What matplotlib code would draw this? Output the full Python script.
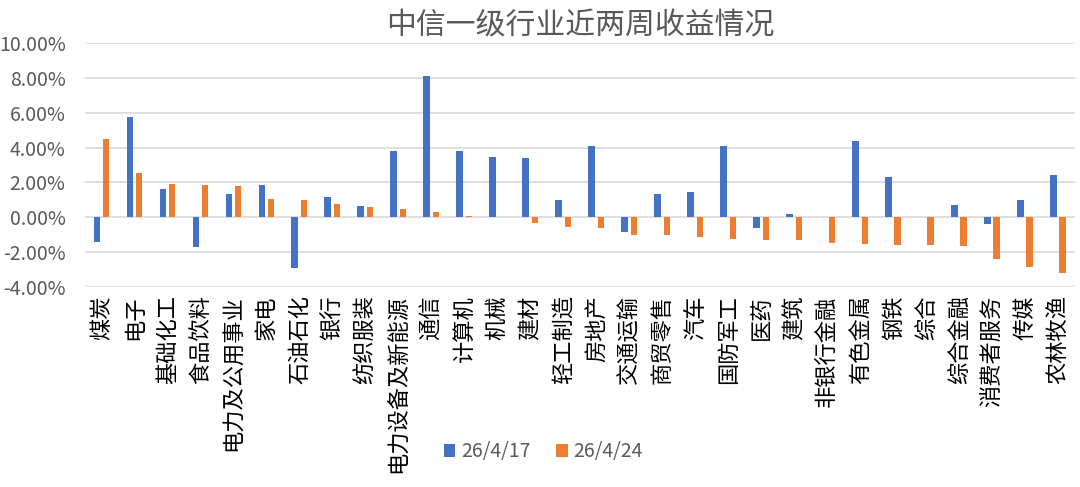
import numpy as np
import matplotlib
matplotlib.use("Agg")
import matplotlib.pyplot as plt
from matplotlib.ticker import FuncFormatter

plt.rcParams["font.family"] = ["Noto Sans CJK SC", "DejaVu Sans"]

industries = ["煤炭", "电子", "基础化工", "食品饮料", "电力及公用事业", "家电", "石油石化",
              "银行", "纺织服装", "电力设备及新能源", "通信", "计算机", "机械", "建材",
              "轻工制造", "房地产", "交通运输", "商贸零售", "汽车", "国防军工", "医药",
              "建筑", "非银行金融", "有色金属", "钢铁", "综合", "综合金融", "消费者服务",
              "传媒", "农林牧渔"]
# 收益率 (%)
ret_0417 = [-1.43, 5.77, 1.63, -1.72, 1.36, 1.84, -2.91, 1.17, 0.67, 3.79,
            8.11, 3.79, 3.44, 3.38, 0.99, 4.09, -0.82, 1.34, 1.47, 4.09,
            -0.61, 0.20, 0.00, 4.40, 2.29, 0.00, 0.69, -0.40, 1.01, 2.45]
ret_0424 = [4.47, 2.56, 1.91, 1.84, 1.78, 1.07, 1.01, 0.75, 0.59, 0.48,
            0.29, 0.10, 0.00, -0.34, -0.57, -0.63, -0.99, -1.03, -1.15, -1.24,
            -1.32, -1.32, -1.45, -1.53, -1.57, -1.61, -1.64, -2.39, -2.83, -3.19]
labels = ["26/4/17", "26/4/24"]

fig = plt.figure(figsize=(10.8, 4.87), dpi=100)
ax = fig.add_axes([0.0787, 0.4107, 0.9163, 0.501])

x = np.arange(len(industries))
w = 0.2
ax.bar(x - 0.14, ret_0417, w, color="#4472C4", label=labels[0], zorder=3)
ax.bar(x + 0.14, ret_0424, w, color="#ED7D31", label=labels[1], zorder=3)

ax.set_xlim(-0.5, len(industries) - 0.5)
ax.set_ylim(-4, 10)
ax.set_yticks(np.arange(-4, 10.1, 2))
ax.yaxis.set_major_formatter(FuncFormatter(lambda v, p: "%.2f%%" % v))
ax.grid(axis="y", color="#D9D9D9", linewidth=1.2, zorder=0)
for s in ax.spines.values():
    s.set_visible(False)
ax.tick_params(axis="both", length=0)
ax.tick_params(axis="y", labelsize=14, labelcolor="#595959", pad=14)

ax.set_xticks(x)
ax.set_xticklabels(industries, rotation=90, fontsize=16, color="#000000")
ax.tick_params(axis="x", pad=6)

fig.text(0.537, 0.948, "中信一级行业近两周收益情况", ha="center", va="center",
         fontsize=21.5, color="#595959")

fig.legend(loc="center", bbox_to_anchor=(0.503, 0.072), ncol=2, frameon=False,
           fontsize=14, labelcolor="#595959", handlelength=0.6, handleheight=0.6,
           handletextpad=0.3, columnspacing=1.3)

fig.savefig("out.png", dpi=100)
